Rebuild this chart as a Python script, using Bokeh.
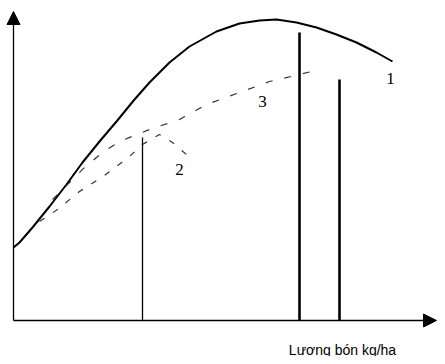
from bokeh.plotting import figure
from bokeh.models import Arrow, NormalHead, Range1d
from bokeh.core.properties import value
from bokeh.embed import file_html
from bokeh.resources import INLINE

# Curve 1 (yield response)
c1_x = [0, 6, 19, 36, 53, 69, 86, 103, 121, 136, 156, 176, 203, 226, 246, 263, 283, 303, 323, 343, 363, 379]
c1_y = [73, 78, 93, 114, 136, 158, 179, 199, 221, 238, 258, 274, 289, 297, 300, 301, 298, 293, 286, 278, 268, 259]
# Curve 2 (dashed, lower)
c2_x = [26, 44, 66, 91, 116, 129, 146, 159, 173]
c2_y = [99, 111, 129, 145, 164, 176, 186, 178, 166]
# Curve 3 (dashed, middle)
c3_x = [39, 56, 71, 89, 106, 136, 166, 193, 226, 256, 286, 298]
c3_y = [121, 138, 153, 168, 179, 191, 201, 216, 228, 239, 246, 249]
# Vertical marker lines
v_x = [129, 286, 326]
v_top = [183, 288, 241]
v_w = [1.3, 2.6, 2.6]
# Curve labels
lab_x = [377, 166, 249]
lab_y = [242, 151, 219]
lab_t = ["1", "2", "3"]
x_title = "Lượng bón kg/ha"

p = figure(width=437, height=356, output_backend="svg", toolbar_location=None,
           x_range=Range1d(-13, 424), y_range=Range1d(-36, 320), min_border=0)
p.axis.visible = False
p.grid.visible = False
p.outline_line_color = None
p.background_fill_color = "white"
p.border_fill_color = "white"

# axes with arrow heads
p.add_layout(Arrow(end=NormalHead(size=13, fill_color="black", line_color="black"),
                   x_start=0, y_start=0, x_end=0, y_end=309, line_width=1.3, line_color="black"))
p.add_layout(Arrow(end=NormalHead(size=13, fill_color="black", line_color="black"),
                   x_start=0, y_start=0, x_end=423, y_end=0, line_width=1.3, line_color="black"))

p.line(c1_x, c1_y, line_color="black", line_width=2)
p.line(c2_x, c2_y, line_color="#333333", line_width=1.2, line_dash="6 10")
p.line(c3_x, c3_y, line_color="#333333", line_width=1.2, line_dash="7 12")

p.segment(x0=v_x, y0=[0, 0, 0], x1=v_x, y1=v_top, line_color="black", line_width=v_w)

p.text(x=lab_x, y=lab_y, text=lab_t, text_font=value("Liberation Serif"),
       text_font_size="17px", text_align="center", text_baseline="middle", text_color="black")
p.text(x=[329], y=[-29], text=[x_title], text_font=value("Liberation Sans"),
       text_font_size="14px", text_align="center", text_baseline="middle", text_color="black")

open("out.html", "w").write(file_html(p, INLINE))
